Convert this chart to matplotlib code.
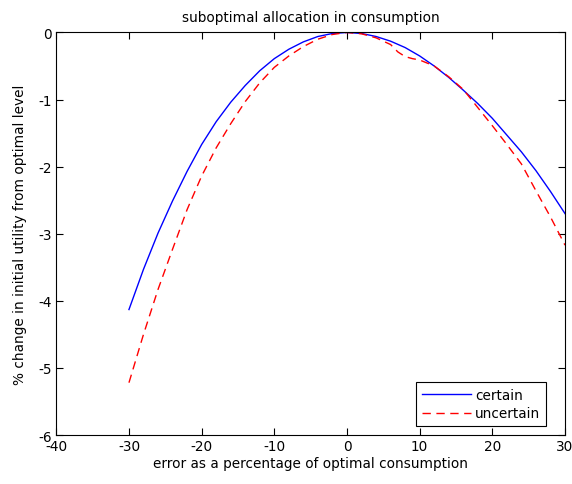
import numpy as np
import matplotlib.pyplot as plt

# error in consumption (% of optimal) and utility change (%)
err_certain = [-30, -28, -26, -24, -22, -20, -18, -16, -14, -12, -10, -8, -6, -4, -2, 0,
               2, 4, 6, 8, 10, 12, 14, 16, 18, 20, 22, 24, 26, 28, 30]
util_certain = [-4.13, -3.53, -2.99, -2.51, -2.07, -1.67, -1.33, -1.04, -0.79, -0.57, -0.39,
                -0.25, -0.14, -0.06, -0.015, 0.0, -0.015, -0.06, -0.13, -0.225, -0.35, -0.50,
                -0.67, -0.86, -1.06, -1.28, -1.53, -1.78, -2.06, -2.37, -2.70]

err_uncertain = [-30, -28, -26, -24, -22, -20, -18, -16, -14, -12, -10, -8, -6, -4, -2, 0,
                 2, 4, 6, 7, 8, 9, 10, 12, 14, 16, 18, 20, 22, 24, 26, 28, 30]
util_uncertain = [-5.22, -4.50, -3.83, -3.23, -2.64, -2.14, -1.72, -1.36, -1.03, -0.75, -0.52,
                  -0.35, -0.21, -0.10, -0.03, 0.0, -0.02, -0.08, -0.18, -0.29, -0.36, -0.39,
                  -0.41, -0.50, -0.66, -0.85, -1.12, -1.39, -1.67, -1.96, -2.36, -2.75, -3.17]

plt.rcParams['font.family'] = ['DejaVu Sans']
plt.rcParams['axes.unicode_minus'] = False
fs = 9.8

fig = plt.figure(figsize=(5.72, 4.85), dpi=100)
ax = fig.add_axes([0.0984, 0.101, 0.8894, 0.830])

ax.plot(err_certain, util_certain, color='#0000ff', linewidth=1, label='certain')
ax.plot(err_uncertain, util_uncertain, color='#ff0000', linewidth=1,
        dashes=(6, 4), label='uncertain')

ax.set_xlim(-40, 30)
ax.set_ylim(-6, 0)
ax.set_xticks(np.arange(-40, 31, 10))
ax.set_yticks(np.arange(-6, 1, 1))
ax.tick_params(direction='in', top=True, right=True, length=5, width=0.8,
               labelsize=fs, pad=3)
for s in ax.spines.values():
    s.set_linewidth(0.8)

ax.set_title('suboptimal allocation in consumption', fontsize=fs, pad=8)
ax.set_xlabel('error as a percentage of optimal consumption', fontsize=fs, labelpad=2)
ax.set_ylabel('% change in initial utility from optimal level', fontsize=fs, labelpad=8)

leg = ax.legend(loc='lower right', bbox_to_anchor=(0.962, 0.023), borderaxespad=0,
                fancybox=False, edgecolor='black', framealpha=1, handlelength=3.6,
                handletextpad=0.3, fontsize=fs, borderpad=0.4, labelspacing=0.35)
leg.get_frame().set_linewidth(0.8)

plt.savefig('out.png', dpi=100)
